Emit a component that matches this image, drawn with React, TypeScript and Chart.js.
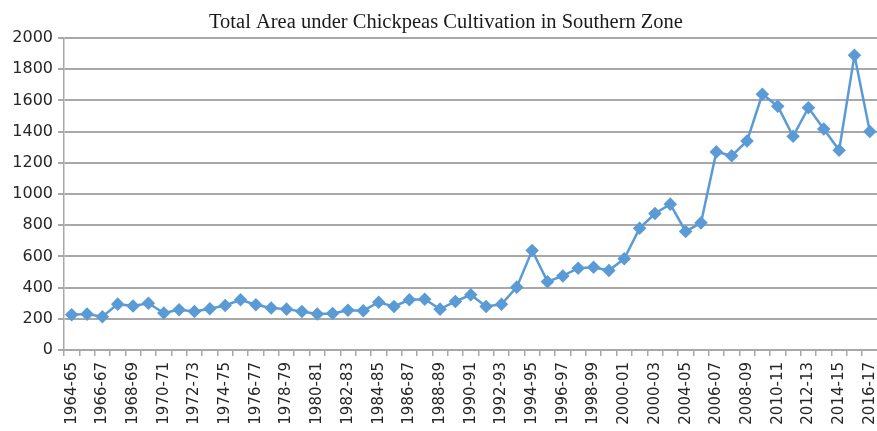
import React, { useEffect, useRef } from "react";
import { Chart, registerables } from "chart.js";

Chart.register(...registerables);

const categories: string[] = [
  "1964-65", "1965-66", "1966-67", "1967-68", "1968-69", "1969-70", "1970-71", "1971-72",
  "1972-73", "1973-74", "1974-75", "1975-76", "1976-77", "1977-78", "1978-79", "1979-80",
  "1980-81", "1981-82", "1982-83", "1983-84", "1984-85", "1985-86", "1986-87", "1987-88",
  "1988-89", "1989-90", "1990-91", "1991-92", "1992-93", "1993-94", "1994-95", "1995-96",
  "1996-97", "1997-98", "1998-99", "1999-00", "2000-01", "2001-02", "2000-03", "2003-04",
  "2004-05", "2005-06", "2006-07", "2007-08", "2008-09", "2009-10", "2010-11", "2011-12",
  "2012-13", "2013-14", "2014-15", "2015-16", "2016-17",
];

const areaValues: number[] = [
  226, 230, 213, 294, 282, 300, 237, 258,
  247, 264, 285, 322, 290, 269, 262, 247,
  231, 234, 255, 252, 306, 279, 322, 326,
  262, 311, 354, 279, 293, 403, 638, 438,
  475, 524, 530, 509, 585, 780, 875, 935,
  760, 815, 1270, 1245, 1340, 1640, 1563, 1370,
  1553, 1417, 1280, 1890, 1400,
];

const titleText = "Total Area under Chickpeas Cultivation in Southern Zone";
const yMin = 0;
const yMax = 2000;
const yStep = 200;

const titlePlugin = {
  id: "customTitle",
  afterDraw(chart: any) {
    const ctx = chart.ctx;
    ctx.save();
    ctx.font = '20.5px "Liberation Serif", "Times New Roman", serif';
    ctx.fillStyle = "#1a1a1a";
    ctx.textAlign = "center";
    ctx.textBaseline = "alphabetic";
    ctx.fillText(titleText, 446, 28);
    ctx.restore();
  },
};

export default function App() {
  const ref = useRef<HTMLCanvasElement | null>(null);
  useEffect(() => {
    document.body.style.margin = "0";
    if (!ref.current) return;
    const gridColor = "#a8a8a8";
    const chart = new Chart(ref.current, {
      type: "line",
      data: {
        labels: categories,
        datasets: [
          {
            data: areaValues,
            borderColor: "#5b9bd5",
            backgroundColor: "#5b9bd5",
            borderWidth: 2.5,
            pointStyle: "rectRot",
            pointRadius: 5,
            pointBackgroundColor: "#5b9bd5",
            pointBorderColor: "#5b9bd5",
            tension: 0,
          },
        ],
      },
      options: {
        responsive: false,
        animation: false,
        layout: { padding: { top: 38, left: 0, right: 0, bottom: 0 } },
        plugins: {
          legend: { display: false },
          title: { display: false },
          tooltip: { enabled: false },
        },
        scales: {
          x: {
            type: "category",
            offset: true,
            grid: {
              offset: true,
              drawOnChartArea: false,
              drawTicks: true,
              tickLength: 6,
              color: gridColor,
              lineWidth: 1.5,
            },
            border: { color: gridColor, width: 1.5 },
            ticks: {
              autoSkip: false,
              maxRotation: 90,
              minRotation: 90,
              padding: 6,
              color: "#262626",
              font: { family: '"DejaVu Sans", sans-serif', size: 15 },
              callback: (_v: any, i: number) => (i % 2 === 0 ? categories[i] : ""),
            },
            afterFit: (s: any) => {
              s.height = 81;
              s.paddingLeft = 0;
              s.paddingRight = 0;
            },
          },
          y: {
            min: yMin,
            max: yMax,
            ticks: {
              stepSize: yStep,
              padding: 5,
              color: "#262626",
              font: { family: '"DejaVu Sans", sans-serif', size: 16 },
              callback: (v: any) => String(v),
            },
            grid: {
              color: gridColor,
              lineWidth: 2,
              drawTicks: true,
              tickLength: 6,
            },
            border: { color: gridColor, width: 1.5 },
            afterFit: (s: any) => {
              s.width = 64;
            },
          },
        },
      },
      plugins: [titlePlugin],
    });
    return () => chart.destroy();
  }, []);
  return (
    <div style={{ width: 877, height: 431, overflow: "hidden" }}>
      <canvas ref={ref} width={885} height={431} style={{ width: 885, height: 431, display: "block" }} />
    </div>
  );
}
